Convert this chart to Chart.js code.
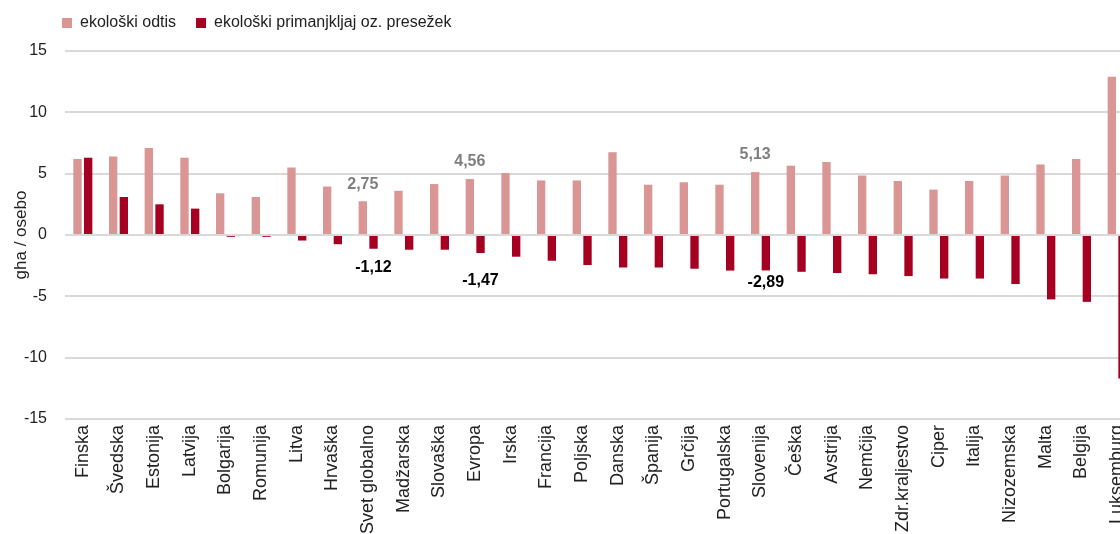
<!DOCTYPE html>
<html>
<head>
<meta charset="utf-8">
<script src="https://cdn.jsdelivr.net/npm/chart.js@4/dist/chart.umd.min.js"></script>
<style>
  html, body { margin: 0; padding: 0; background: #fff; overflow: hidden; width: 1120px; height: 534px; }
  #clip { width: 1120px; height: 534px; overflow: hidden; position: relative; }
  canvas { display: block; }
</style>
</head>
<body>
<div id="clip"><canvas id="c" width="1135" height="534" style="width:1135px;height:534px"></canvas></div>
<script>
const categories = ["Finska","Švedska","Estonija","Latvija","Bolgarija","Romunija","Litva","Hrvaška","Svet globalno","Madžarska","Slovaška","Evropa","Irska","Francija","Poljska","Danska","Španija","Grčija","Portugalska","Slovenija","Češka","Avstrija","Nemčija","Zdr.kraljestvo","Ciper","Italija","Nizozemska","Malta","Belgija","Luksemburg"];
const footprint = [6.2,6.4,7.1,6.3,3.4,3.1,5.5,3.95,2.75,3.6,4.15,4.56,5.05,4.45,4.45,6.75,4.1,4.3,4.1,5.13,5.65,5.95,4.85,4.4,3.7,4.4,4.85,5.75,6.2,12.9];
const balance = [6.3,3.1,2.5,2.15,-0.15,-0.15,-0.45,-0.75,-1.12,-1.2,-1.2,-1.47,-1.77,-2.1,-2.45,-2.65,-2.65,-2.75,-2.9,-2.89,-3.0,-3.1,-3.2,-3.35,-3.55,-3.55,-4.0,-5.25,-5.45,-11.7];
const seriesNames = ["ekološki odtis","ekološki primanjkljaj oz. presežek"];
const yTicks = [-15,-10,-5,0,5,10,15];
const labelledIdx = [8, 11, 19];
const yTitle = "gha / osebo";

const fmt = v => v.toFixed(2).replace('.', ',');
const darkLabelOffsets = [19, 28, 12];

const valueLabels = {
  id: 'valueLabels',
  afterDatasetsDraw(chart) {
    const ctx = chart.ctx;
    const m0 = chart.getDatasetMeta(0), m1 = chart.getDatasetMeta(1);
    ctx.save();
    ctx.font = 'bold 16px "Liberation Sans", Arial, sans-serif';
    ctx.textAlign = 'center';
    ctx.textBaseline = 'middle';
    labelledIdx.forEach((i, k) => {
      const e0 = m0.data[i], e1 = m1.data[i];
      ctx.fillStyle = '#7f7f7f';
      ctx.fillText(fmt(footprint[i]), e0.x, e0.y - 17);
      ctx.fillStyle = '#000';
      ctx.fillText(fmt(balance[i]), e1.x, e1.y + darkLabelOffsets[k]);
    });
    ctx.restore();
  }
};

const legendShift = {
  id: 'legendShift',
  beforeDraw(chart) {
    chart.legend.left = 42;
    chart.legend.top = -5;
  }
};

new Chart(document.getElementById('c'), {
  type: 'bar',
  data: {
    labels: categories,
    datasets: [
      { label: seriesNames[0], data: footprint, backgroundColor: '#D99694', categoryPercentage: 0.6, barPercentage: 0.78 },
      { label: seriesNames[1], data: balance, backgroundColor: '#A50021', categoryPercentage: 0.6, barPercentage: 0.78 }
    ]
  },
  options: {
    responsive: false,
    maintainAspectRatio: false,
    animation: false,
    devicePixelRatio: 1,
    layout: { padding: { top: 5, left: 0, right: 0, bottom: 0 } },
    plugins: {
      legend: {
        position: 'top',
        align: 'start',
        labels: {
          boxWidth: 10, boxHeight: 10, padding: 20,
          color: '#222',
          font: { family: '"Liberation Sans", Arial, sans-serif', size: 16 }
        }
      },
      tooltip: { enabled: false }
    },
    scales: {
      x: {
        grid: { display: false, drawTicks: false },
        border: { display: false },
        ticks: {
          autoSkip: false, minRotation: 90, maxRotation: 90, padding: 6,
          color: '#222',
          font: { family: '"Liberation Sans", Arial, sans-serif', size: 18 }
        },
        afterFit(s) { s.height = 115; s.paddingLeft = 0; s.paddingRight = 0; }
      },
      y: {
        min: -15, max: 15,
        afterBuildTicks(s) { s.ticks = yTicks.map(v => ({ value: v })); },
        grid: { color: '#d9d9d9', lineWidth: 2, drawTicks: false },
        border: { display: false },
        ticks: {
          padding: 18,
          color: '#222',
          font: { family: '"Liberation Sans", Arial, sans-serif', size: 16 }
        },
        title: {
          display: true, text: yTitle, color: '#222',
          padding: { top: 11, bottom: 0 },
          font: { family: '"Liberation Sans", Arial, sans-serif', size: 17 }
        },
        afterFit(s) { s.width = 65; }
      }
    }
  },
  plugins: [valueLabels, legendShift]
});
</script>
</body>
</html>
